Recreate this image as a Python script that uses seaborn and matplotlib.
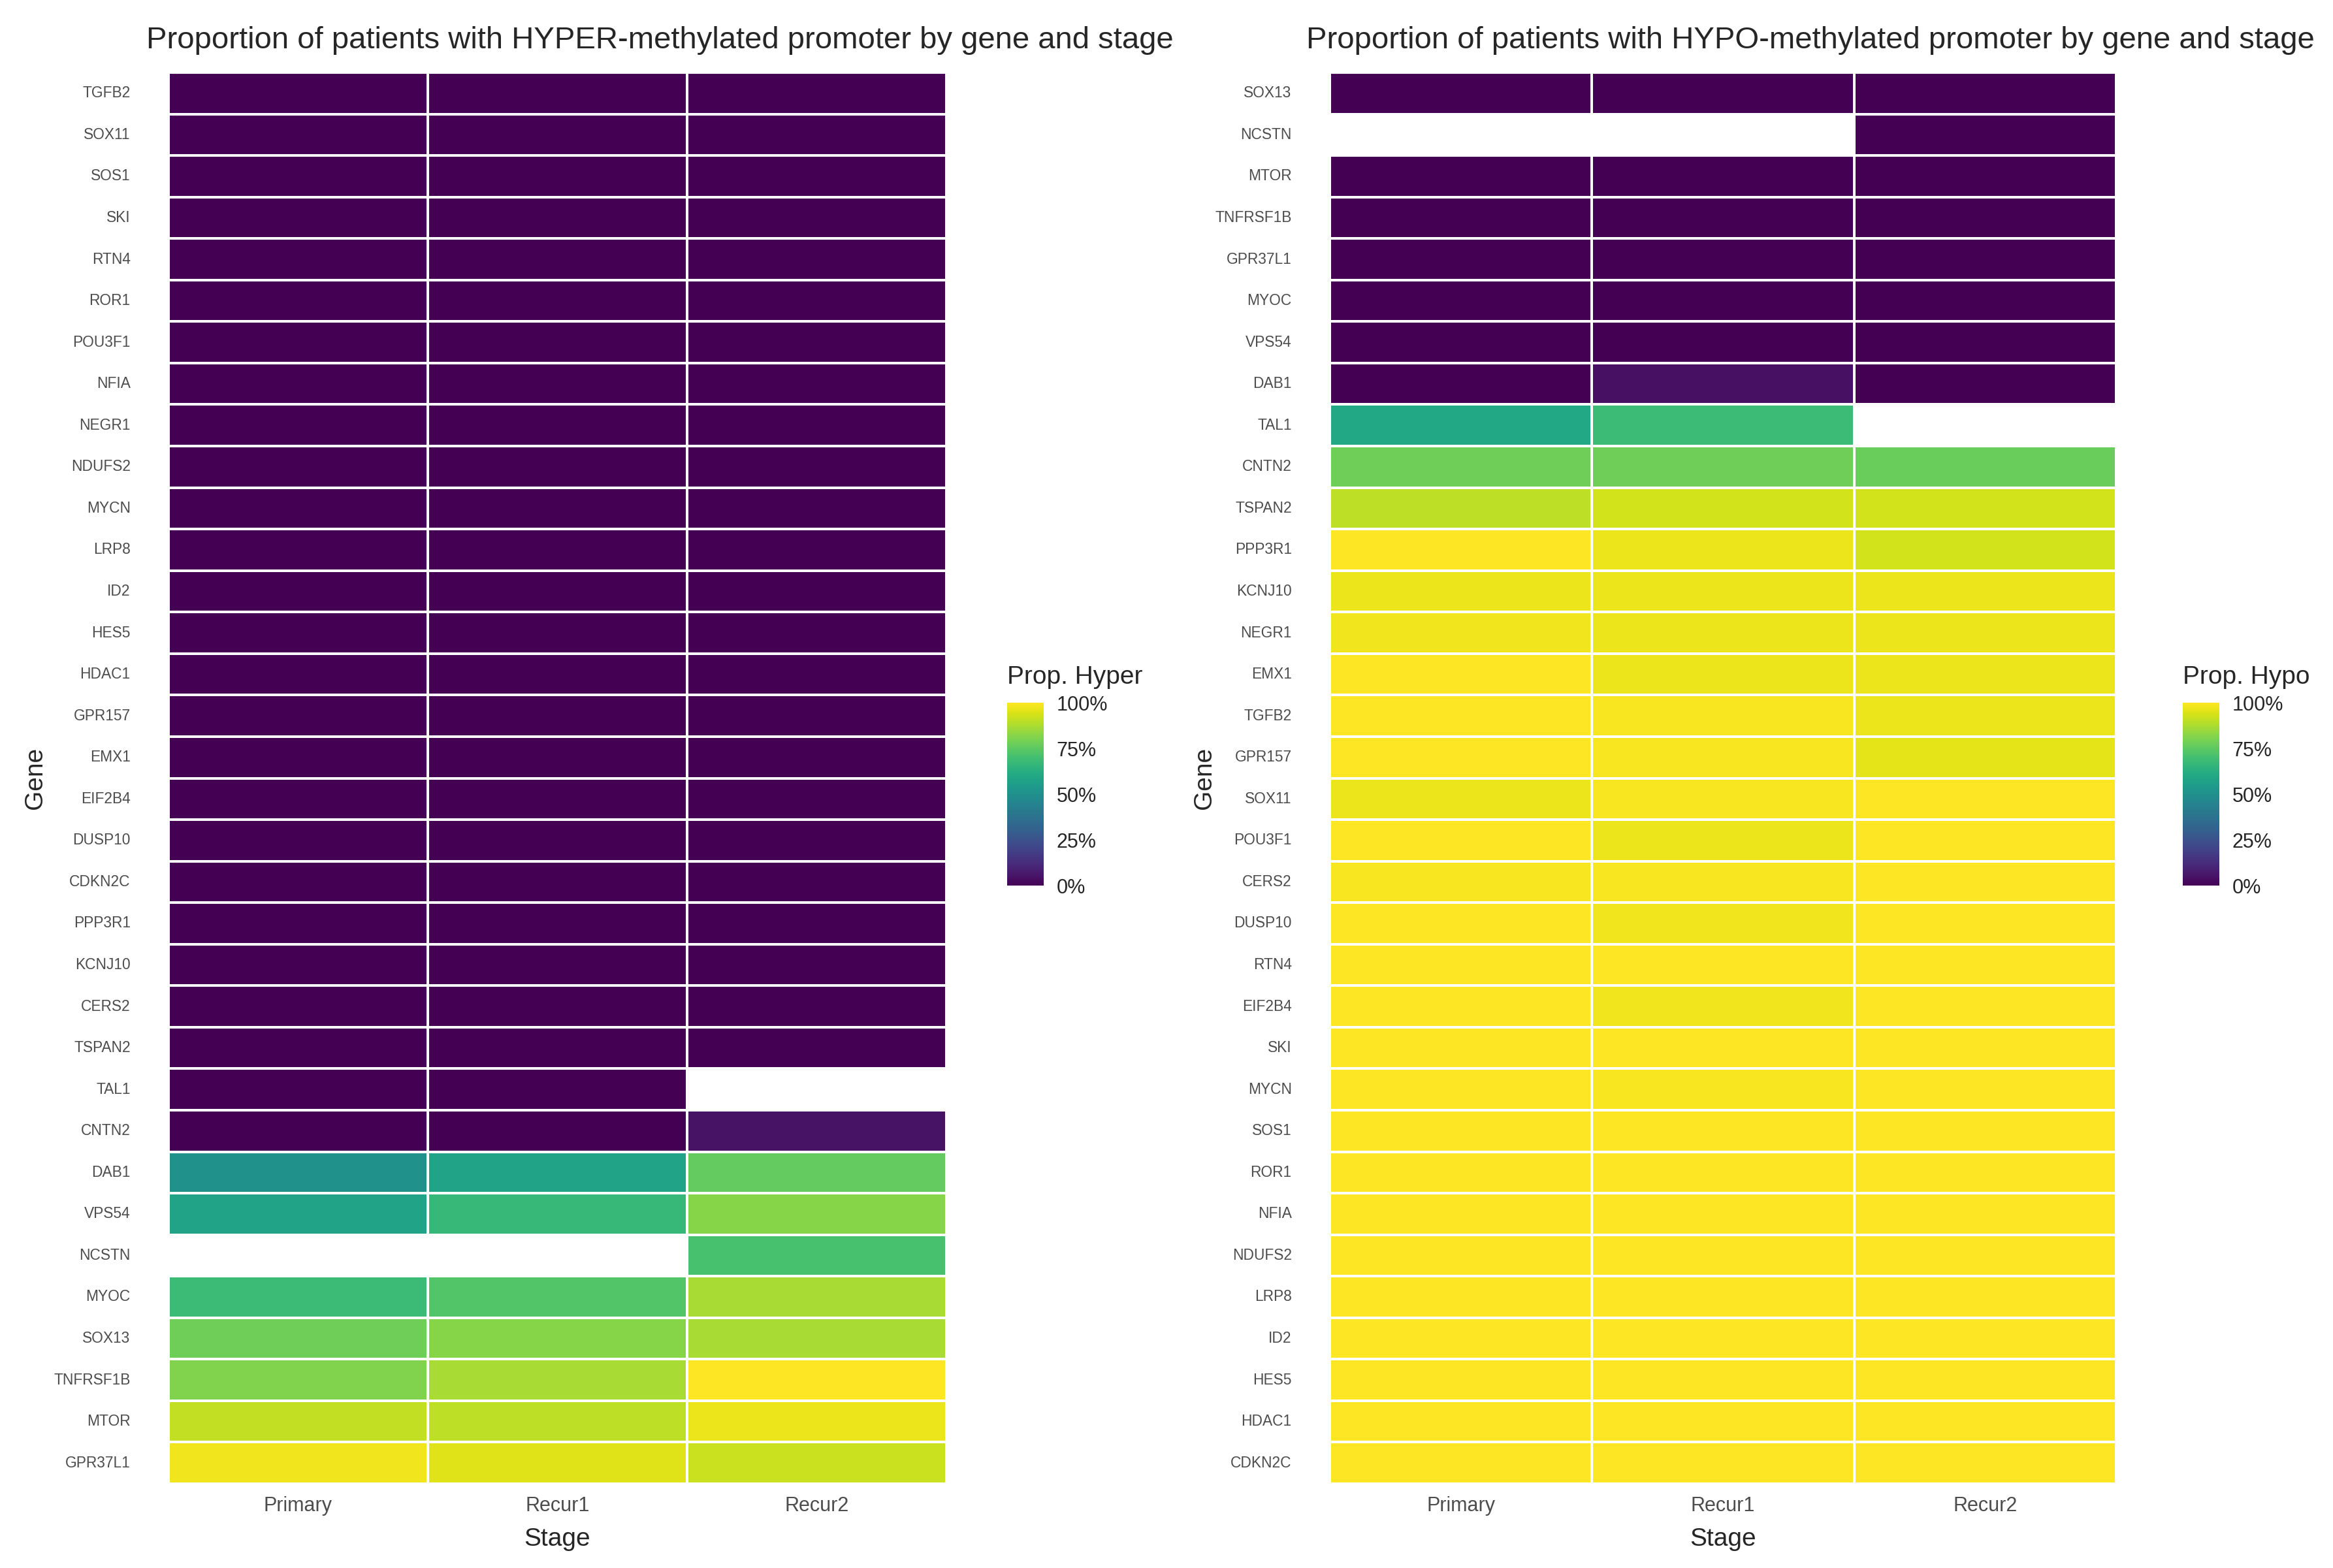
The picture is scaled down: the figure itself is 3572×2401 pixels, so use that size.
import numpy as np
import pandas as pd
import matplotlib
matplotlib.use("Agg")
import matplotlib.pyplot as plt
import seaborn as sns

stages = ["Primary", "Recur1", "Recur2"]

# hyper-methylated panel, rows top to bottom
hyper_genes = ["TGFB2", "SOX11", "SOS1", "SKI", "RTN4", "ROR1", "POU3F1", "NFIA",
               "NEGR1", "NDUFS2", "MYCN", "LRP8", "ID2", "HES5", "HDAC1", "GPR157",
               "EMX1", "EIF2B4", "DUSP10", "CDKN2C", "PPP3R1", "KCNJ10", "CERS2",
               "TSPAN2", "TAL1", "CNTN2", "DAB1", "VPS54", "NCSTN", "MYOC", "SOX13",
               "TNFRSF1B", "MTOR", "GPR37L1"]
hyper_primary = [0.0] * 24 + [0.0, 0.0, 0.50, 0.58, np.nan, 0.68, 0.78, 0.81, 0.91, 0.98]
hyper_recur1 = [0.0] * 24 + [0.0, 0.0, 0.58, 0.67, np.nan, 0.73, 0.82, 0.87, 0.90, 0.95]
hyper_recur2 = [0.0] * 24 + [np.nan, 0.05, 0.76, 0.82, 0.71, 0.87, 0.87, 1.00, 0.97, 0.92]

# hypo-methylated panel, rows top to bottom
hypo_genes = ["SOX13", "NCSTN", "MTOR", "TNFRSF1B", "GPR37L1", "MYOC", "VPS54", "DAB1",
              "TAL1", "CNTN2", "TSPAN2", "PPP3R1", "KCNJ10", "NEGR1", "EMX1", "TGFB2",
              "GPR157", "SOX11", "POU3F1", "CERS2", "DUSP10", "RTN4", "EIF2B4", "SKI",
              "MYCN", "SOS1", "ROR1", "NFIA", "NDUFS2", "LRP8", "ID2", "HES5", "HDAC1",
              "CDKN2C"]
hypo_primary = [0.0, np.nan, 0.0, 0.0, 0.0, 0.0, 0.0, 0.0, 0.60, 0.78, 0.90, 1.00,
                0.97, 0.98, 1.00, 1.00, 1.00, 0.97, 1.00, 0.99, 1.00, 1.00, 1.00,
                1.00, 1.00, 1.00, 1.00, 1.00, 1.00, 1.00, 1.00, 1.00, 1.00, 1.00]
hypo_recur1 = [0.0, np.nan, 0.0, 0.0, 0.0, 0.0, 0.0, 0.04, 0.68, 0.78, 0.93, 0.97,
               0.97, 0.97, 0.97, 0.99, 0.99, 0.99, 0.97, 0.99, 0.98, 1.00, 0.98,
               1.00, 0.99, 1.00, 1.00, 1.00, 1.00, 1.00, 1.00, 1.00, 1.00, 1.00]
hypo_recur2 = [0.0, 0.0, 0.0, 0.0, 0.0, 0.0, 0.0, 0.0, np.nan, 0.77, 0.93, 0.93,
               0.97, 0.97, 0.97, 0.97, 0.96, 1.00, 1.00, 1.00, 1.00, 1.00, 1.00,
               1.00, 1.00, 1.00, 1.00, 1.00, 1.00, 1.00, 1.00, 1.00, 1.00, 1.00]

W, H = 3572, 2401
TXT_GREY = "#4D4D4D"


def px(x0, y0, x1, y1):
    # pixel box -> figure fraction [left, bottom, width, height]
    return [x0 / W, 1 - y1 / H, (x1 - x0) / W, (y1 - y0) / H]


def panel(fig, df, ax_box, cax_box, title, title_x, legend_title, gene_x):
    ax = fig.add_axes(px(*ax_box))
    cax = fig.add_axes(px(*cax_box))
    sns.heatmap(df, ax=ax, cbar_ax=cax, cmap="viridis", vmin=0, vmax=1,
                linewidths=0.8, linecolor="white",
                cbar_kws={"ticks": [0, 0.25, 0.5, 0.75, 1]})
    ax.tick_params(axis="both", length=0)
    ax.tick_params(axis="y", pad=21, labelsize=8.2, labelcolor=TXT_GREY, rotation=0)
    ax.tick_params(axis="x", pad=7, labelsize=11, labelcolor=TXT_GREY)
    ax.set_xlabel("Stage", fontsize=14)
    ax.set_ylabel("Gene", fontsize=14)
    ax.xaxis.set_label_coords(0.5, -0.031)
    ax.yaxis.set_label_coords((gene_x - ax_box[0]) / (ax_box[2] - ax_box[0]), 0.5)

    cbar = ax.collections[0].colorbar
    cbar.outline.set_visible(False)
    cbar.set_ticklabels(["0%", "25%", "50%", "75%", "100%"])
    cax.tick_params(axis="y", direction="in", length=4.3, width=1.2, color="white",
                    left=True, right=True, labelsize=11, pad=7)

    fig.text(title_x / W, 1 - 62 / H, title, ha="center", va="center", fontsize=17)
    fig.text(cax_box[0] / W, 1 - 1037 / H, legend_title, ha="left", va="center",
             fontsize=14)
    return ax


def main():
    sns.set_style("white")
    plt.rcParams["font.family"] = ["Liberation Sans", "DejaVu Sans"]

    hyper = pd.DataFrame({"Primary": hyper_primary, "Recur1": hyper_recur1,
                          "Recur2": hyper_recur2}, index=hyper_genes)[stages]
    hypo = pd.DataFrame({"Primary": hypo_primary, "Recur1": hypo_recur1,
                         "Recur2": hypo_recur2}, index=hypo_genes)[stages]

    fig = plt.figure(figsize=(W / 200, H / 200), dpi=200)

    panel(fig, hyper, (258, 111, 1449, 2272), (1542, 1076, 1598, 1356),
          "Proportion of patients with HYPER-methylated promoter by gene and stage",
          1010, "Prop. Hyper", 72)
    panel(fig, hypo, (2036, 111, 3240, 2272), (3342, 1076, 3398, 1356),
          "Proportion of patients with HYPO-methylated promoter by gene and stage",
          2772, "Prop. Hypo", 1862)

    fig.savefig("out.png", dpi=200, facecolor="white")
    plt.close(fig)


if __name__ == "__main__":
    main()
